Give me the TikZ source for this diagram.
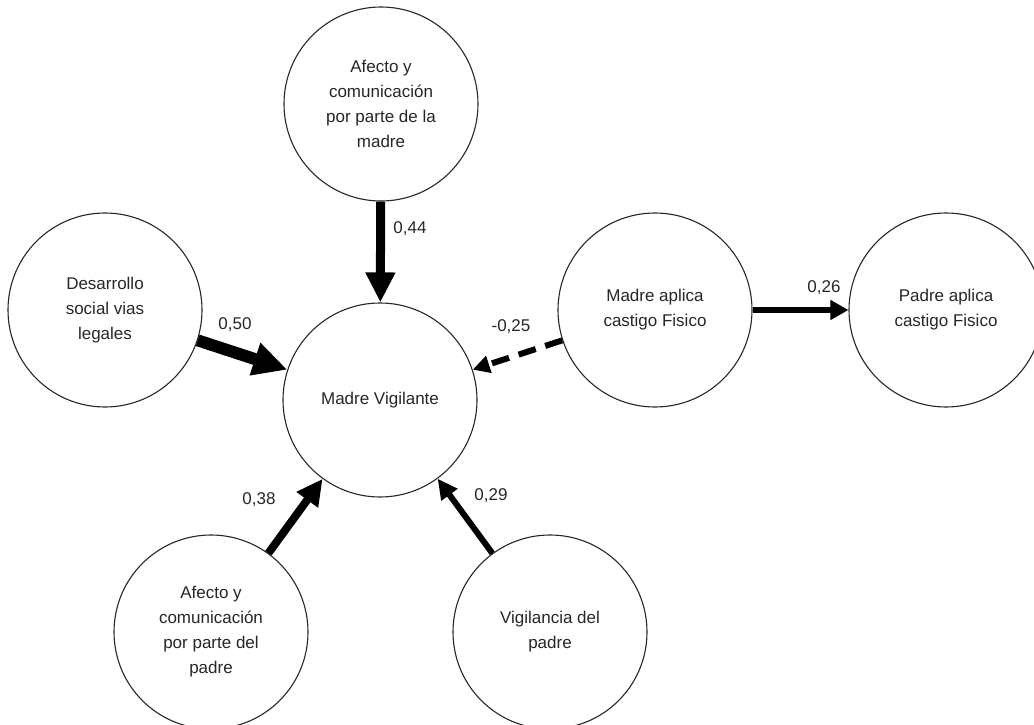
\documentclass[tikz,border=0pt]{standalone}
\usepackage{fontspec}
\setmainfont{Liberation Sans}
\usetikzlibrary{arrows.meta}
\begin{document}
\begin{tikzpicture}[x=1pt,y=-1pt,
  var/.style={draw=black!85,line width=1.1pt,circle,minimum size=194pt,inner sep=0pt,align=center,
    font=\fontsize{17}{25}\selectfont,text=black!85},
  coef/.style={font=\fontsize{17}{20}\selectfont,text=black!85,inner sep=1pt},
  path/.style={draw=black,line cap=butt}]
\useasboundingbox (0,0) rectangle (1034,725);
\node[var] (am) at (381,104) {Afecto y\\comunicación\\por parte de la\\madre};
\node[var] (ds) at (105,310) {Desarrollo\\social vias\\legales};
\node[var] (mv) at (380,400) {Madre Vigilante};
\node[var] (mc) at (655,310) {Madre aplica\\castigo Fisico};
\node[var] (pc) at (946,310) {Padre aplica\\castigo Fisico};
\node[var] (ap) at (211,632) {Afecto y\\comunicación\\por parte del\\padre};
\node[var] (vp) at (550,632) {Vigilancia del\\padre};
\draw[path,line width=9pt,-{Triangle[length=30pt,width=28pt]}] (am) -- (mv);
\draw[path,line width=12pt,-{Triangle[length=34pt,width=32pt]}] (ds) -- (mv);
\draw[path,line width=6pt,dash pattern=on 18pt off 10pt,-{Triangle[length=17pt,width=17pt]}] (mc) -- (mv);
\draw[path,line width=6pt,-{Triangle[length=18pt,width=19pt]}] (mc) -- (pc);
\draw[path,line width=8pt,-{Triangle[length=26pt,width=25pt]}] (ap) -- (mv);
\draw[path,line width=6pt,-{Triangle[length=20pt,width=19pt]}] (vp) -- (mv);
\node[coef] (l44) at (410,229) {0,44};
\node[coef] (l50) at (235,325) {0,50};
\node[coef] (l25) at (511,327) {-0,25};
\node[coef] (l26) at (824,288) {0,26};
\node[coef] (l38) at (259,500) {0,38};
\node[coef] (l29) at (491,496) {0,29};
\end{tikzpicture}
\end{document}
